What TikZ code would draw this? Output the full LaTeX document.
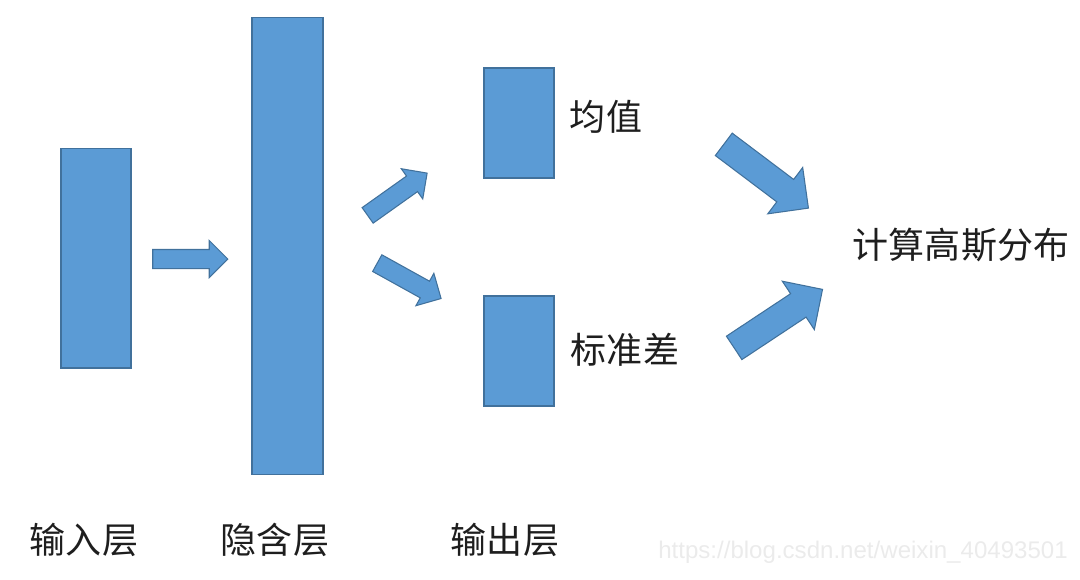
\documentclass[tikz,border=0pt]{standalone}
\usepackage{fontspec}
\setmainfont{Noto Sans CJK SC}
\newfontfamily\wmfont{Liberation Sans}
\usepackage{xcolor}
\definecolor{layerblue}{RGB}{91, 155, 213}
\definecolor{layeredge}{RGB}{65, 113, 156}
\definecolor{labelgray}{RGB}{30, 30, 30}
\usepackage{tikz}
\usetikzlibrary{shapes.arrows, positioning}

\begin{document}
\begin{tikzpicture}[x=0.02cm, y=-0.02cm,
        layer/.style={rectangle, draw=layeredge, fill=layerblue, line width=0.6pt, minimum width=1.4cm, inner sep=0pt},
        flow/.style={single arrow, draw=layeredge, fill=layerblue, line width=0.6pt, inner xsep=0pt, inner ysep=0.18cm, single arrow head extend=0.18cm, minimum height=1.46cm},
        bigflow/.style={flow, inner ysep=0.27cm, single arrow head extend=0.3cm, minimum height=2.12cm},
        lbl/.style={text=labelgray, font=\fontsize{20.5}{24}\selectfont, inner sep=0pt}]

        \useasboundingbox (0,0) rectangle (1080,579);

        % layers
        \node [layer, minimum height=4.4cm] (input) at (96,258) {};
        \node [layer, minimum width=1.42cm, minimum height=9.16cm] (hidden) at (287.5,246) {};
        \node [layer, minimum height=2.2cm] (mean) at (519,123) {};
        \node [layer, minimum height=2.2cm] (std) at (519,351) {};

        % block arrows
        \node [flow, minimum height=1.5cm] (inhid) at (185.5,259) {};
        \node [flow, rotate=35.4] (hidmean) at (393.5,197) {};
        \node [flow, rotate=-29] (hidstd) at (405,278.5) {};
        \node [bigflow, rotate=-37] (meangauss) at (760.5,172) {};
        \node [bigflow, rotate=33.5] (stdgauss) at (772.5,322.5) {};

        % labels
        \node [lbl] (meanlbl) at (606,117) {均值};
        \node [lbl] (stdlbl) at (625,350) {标准差};
        \node [lbl] (gauss) at (961,245) {计算高斯分布};
        \node [lbl] (inlbl) at (84,540) {输入层};
        \node [lbl] (hidlbl) at (275,540) {隐含层};
        \node [lbl] (outlbl) at (505,540) {输出层};

        \node [text=black!8, font=\wmfont\fontsize{13.7}{15}\selectfont, inner sep=0pt] (mark) at (863,552) {https://blog.csdn.net/weixin\_40493501};
    \end{tikzpicture}
\end{document}
